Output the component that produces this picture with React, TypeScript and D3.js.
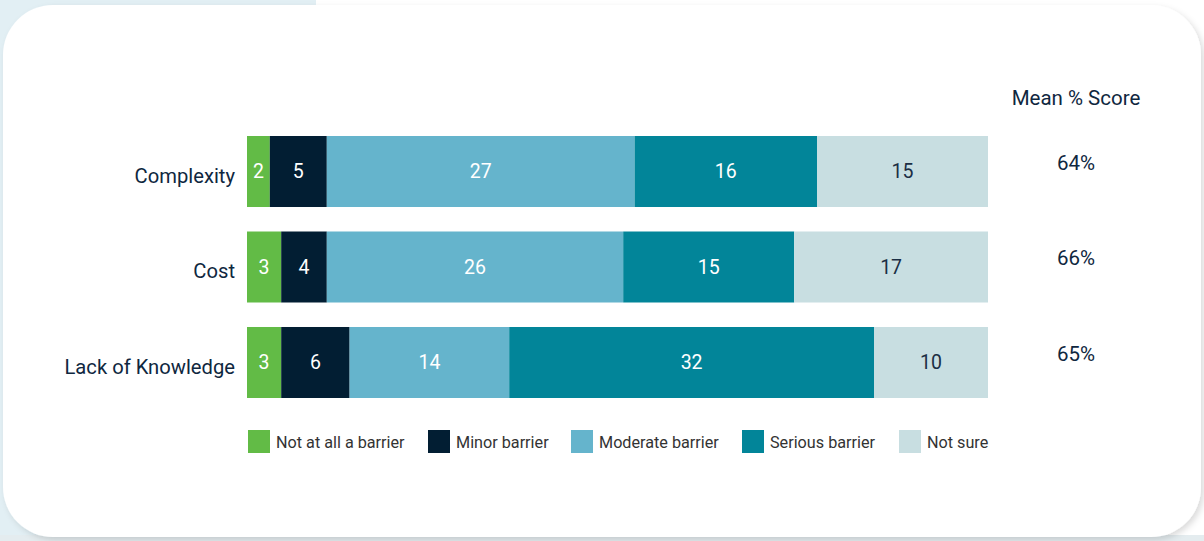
import React from "react";
import * as d3 from "d3";

const categories = ["Complexity", "Cost", "Lack of Knowledge"];
const seriesNames = ["Not at all a barrier", "Minor barrier", "Moderate barrier", "Serious barrier", "Not sure"];
const notAtAll = [2, 3, 3];
const minor = [5, 4, 6];
const moderate = [27, 26, 14];
const serious = [16, 15, 32];
const notSure = [15, 17, 10];
const meanScores = ["64%", "66%", "65%"];
const meanTitle = "Mean % Score";

const colors = ["#62bb46", "#021e33", "#65b4cc", "#028599", "#c8dee1"];
const textColors = ["#ffffff", "#ffffff", "#ffffff", "#ffffff", "#1b2e44"];
const FONT = "Roboto, 'Open Sans', sans-serif";
const DARK = "#0f2740";

export default function App() {
  const W = 1204, H = 541;
  const series = [notAtAll, minor, moderate, serious, notSure];
  const rows = categories.map((c, i) => {
    const o: any = { cat: c };
    seriesNames.forEach((s, j) => (o[s] = series[j][i]));
    return o;
  });
  const stacked = d3.stack<any>().keys(seriesNames)(rows);
  const maxTotal = d3.max(rows, (r: any) => d3.sum(seriesNames, (s) => r[s])) as number;
  const x = d3.scaleLinear().domain([0, maxTotal]).range([247, 988]);
  const y = d3.scaleBand().domain(categories).range([136, 398]).paddingInner(0.2565).paddingOuter(0);

  const legendX = [248, 428, 571, 742, 899];

  return (
    <svg width={W} height={H} style={{ position: "absolute", left: 0, top: 0 }} fontFamily={FONT}>
      <defs>
        <filter id="sh" x="-5%" y="-5%" width="110%" height="115%">
          <feDropShadow dx="3" dy="3" stdDeviation="3" floodColor="#000" floodOpacity="0.14" />
        </filter>
      </defs>
      <rect x={0} y={0} width={W} height={H} fill="#ffffff" />
      <rect x={0} y={0} width={316} height={H} fill="#e2eff4" />
      <rect x={0} y={H - 6} width={W} height={6} fill="#e4ecef" />
      <rect x={3} y={5} width={1198} height={532} rx={50} ry={50} fill="#ffffff" filter="url(#sh)" />

      {stacked.map((layer, j) => (
        <g key={layer.key}>
          {layer.map((d: any, i: number) => {
            const x0 = x(d[0]), x1 = x(d[1]);
            const yy = y(categories[i]) as number;
            return (
              <g key={i}>
                <rect x={x0} y={yy} width={x1 - x0} height={y.bandwidth()} fill={colors[j]} />
                <text
                  x={(x0 + x1) / 2}
                  y={yy + y.bandwidth() / 2}
                  dy="0.35em"
                  textAnchor="middle"
                  fontSize={19.5}
                  fill={textColors[j]}
                >
                  {d[1] - d[0]}
                </text>
              </g>
            );
          })}
        </g>
      ))}

      {categories.map((c) => (
        <text
          key={c}
          x={235}
          y={(y(c) as number) + y.bandwidth() / 2 + 4}
          dy="0.35em"
          textAnchor="end"
          fontSize={20.2}
          fill={DARK}
        >
          {c}
        </text>
      ))}

      <text x={1076} y={98} dy="0.35em" textAnchor="middle" fontSize={20.5} fill={DARK}>
        {meanTitle}
      </text>
      {categories.map((c, i) => (
        <text
          key={c}
          x={1076}
          y={(y(c) as number) + y.bandwidth() / 2 - 9}
          dy="0.35em"
          textAnchor="middle"
          fontSize={20.5}
          fill={DARK}
        >
          {meanScores[i]}
        </text>
      ))}

      {seriesNames.map((s, j) => (
        <g key={s} transform={`translate(${legendX[j]},430)`}>
          <rect x={0} y={0} width={22} height={23} fill={colors[j]} />
          <text x={28} y={12} dy="0.35em" fontSize={16.2} fill="#333333">
            {s}
          </text>
        </g>
      ))}
    </svg>
  );
}
